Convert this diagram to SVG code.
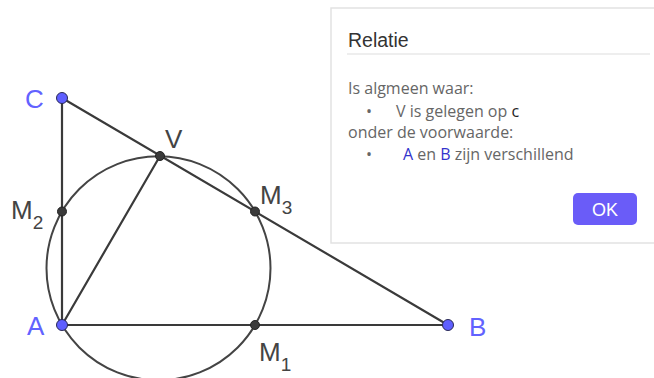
<svg xmlns="http://www.w3.org/2000/svg" width="654" height="378" viewBox="0 0 654 378">
<style>
.ln{stroke:#3a3a3a;stroke-width:2.2;fill:none;stroke-linecap:round}
.ci{stroke:#444;stroke-width:2;fill:none}
.bp{fill:#5f5fff;stroke:#2a2a55;stroke-width:1}
.dp{fill:#3a3a3a;stroke:#222;stroke-width:1}
.lb{font-family:"Liberation Sans",Arial,sans-serif;font-size:26px}
.bl{fill:#6262ff}
.dk{fill:#444}
.sub{font-size:19px}
.tx{font-family:"Open Sans","Noto Sans",sans-serif;font-size:16px;fill:#666}
</style>
<rect width="654" height="378" fill="#fff"/>
<g id="connectors">
<line class="ln" x1="62" y1="325" x2="62" y2="98"/>
<line class="ln" x1="62" y1="325" x2="448" y2="325"/>
<line class="ln" x1="62" y1="98" x2="448" y2="325"/>
<line class="ln" x1="62" y1="325" x2="160" y2="156"/>
<circle class="ci" cx="158.5" cy="268.25" r="112"/>
</g>
<g id="dialog">
<rect x="331" y="8" width="340" height="235" fill="#fff" stroke="#e2e2e2" stroke-width="1.5"/>
<text x="348" y="47" font-family="'Liberation Sans',Arial,sans-serif" font-size="19.5" fill="#333">Relatie</text>
<line x1="347" y1="54" x2="650" y2="54" stroke="#ddd" stroke-width="1"/>
<text class="tx" x="348" y="94">Is algmeen waar:</text>
<text class="tx" x="366" y="117" font-size="19">•</text>
<text class="tx" x="396" y="117" fill="#333">V is gelegen op <tspan fill="#222">c</tspan></text>
<text class="tx" x="348" y="138">onder de voorwaarde:</text>
<text class="tx" x="366" y="160" font-size="19">•</text>
<text class="tx" x="403" y="160"><tspan fill="#3333cc">A</tspan> en <tspan fill="#3333cc">B</tspan> zijn verschillend</text>
<rect x="573" y="193" width="64" height="32" rx="5" fill="#6a5cf8"/>
<text x="605" y="216" text-anchor="middle" font-family="'Liberation Sans',Arial,sans-serif" font-size="18" fill="#fff">OK</text>
</g>
<g id="C"><circle class="bp" cx="62" cy="98" r="5.5"/><text class="lb bl" x="25" y="108">C</text></g>
<g id="A"><circle class="bp" cx="62" cy="325" r="5.5"/><text class="lb bl" x="27" y="335">A</text></g>
<g id="B"><circle class="bp" cx="448" cy="325" r="5.5"/><text class="lb bl" x="469" y="336">B</text></g>
<g id="V"><circle class="dp" cx="160" cy="156" r="4.5"/><text class="lb dk" x="165" y="148">V</text></g>
<g id="M2"><circle class="dp" cx="62" cy="211.5" r="4.5"/><text class="lb dk" x="11" y="219">M<tspan class="sub" dy="10">2</tspan></text></g>
<g id="M3"><circle class="dp" cx="255" cy="211.5" r="4.5"/><text class="lb dk" x="260" y="204">M<tspan class="sub" dy="10">3</tspan></text></g>
<g id="M1"><circle class="dp" cx="255" cy="325" r="4.5"/><text class="lb dk" x="259" y="361">M<tspan class="sub" dy="10">1</tspan></text></g>
</svg>
